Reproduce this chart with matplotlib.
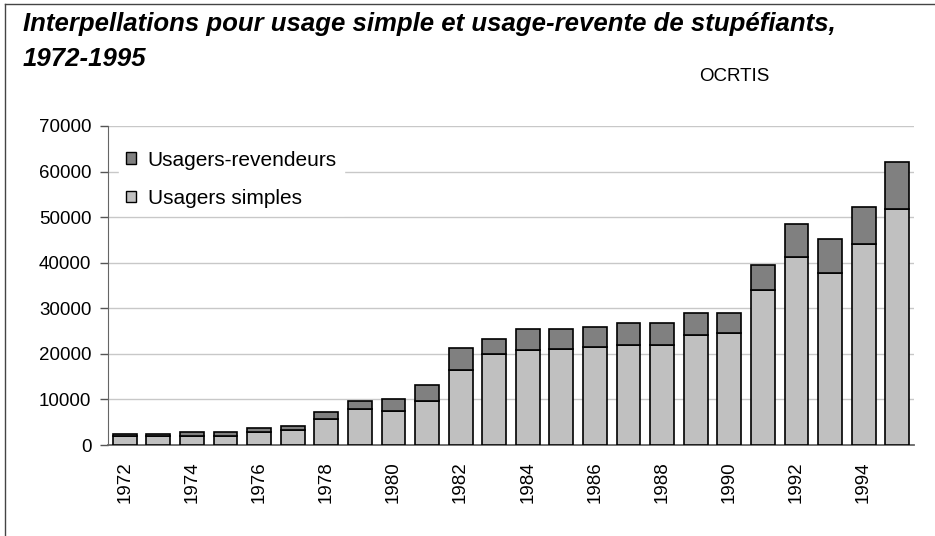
import matplotlib
matplotlib.use("Agg")
import matplotlib.pyplot as plt
from matplotlib.lines import Line2D
from matplotlib.patches import Patch

plt.rcParams['font.family'] = ['Liberation Sans', 'DejaVu Sans']

years = list(range(1972, 1996))
usagers_simples = [1950, 1950, 2050, 2000, 2850, 3300, 5800, 8000, 7550, 9650,
                   16450, 19900, 20800, 21150, 21600, 22000, 22000, 24200, 24600,
                   33950, 41250, 37800, 44200, 51850]
usagers_revendeurs = [550, 550, 900, 900, 900, 900, 1400, 1750, 2550, 3500,
                      4750, 3450, 4650, 4300, 4300, 4750, 4750, 4700, 4300,
                      5600, 7250, 7350, 8100, 10250]
yticks = [0, 10000, 20000, 30000, 40000, 50000, 60000, 70000]
year_labels = [str(y) for y in years[::2]]

W, H = 935, 536
fig = plt.figure(figsize=(W / 100, H / 100), dpi=100)
ax = fig.add_axes([108 / W, 1 - 445 / H, 806 / W, (445 - 126) / H])

x = list(range(len(years)))
c_simple = '#C0C0C0'
c_rev = '#808080'
ax.bar(x, usagers_simples, width=0.71, color=c_simple, edgecolor='black', linewidth=1.2, zorder=3)
ax.bar(x, usagers_revendeurs, width=0.71, bottom=usagers_simples, color=c_rev,
       edgecolor='black', linewidth=1.2, zorder=3)

ax.set_xlim(-0.5, len(years) - 0.5)
ax.set_ylim(0, 70000)
ax.set_yticks(yticks)
ax.set_yticklabels([str(v) for v in yticks])
ax.set_xticks(x[::2])
ax.set_xticklabels(year_labels, rotation=90)
ax.tick_params(axis='y', direction='out', length=6, width=1, color='#555555', pad=6, labelsize=13.5)
ax.tick_params(axis='x', length=0, pad=12, labelsize=13.5)
ax.yaxis.grid(True, color='#C8C8C8', linewidth=1)
ax.set_axisbelow(True)
for s in ['top', 'right']:
    ax.spines[s].set_visible(False)
ax.spines['left'].set_color('#666666')
ax.spines['bottom'].set_color('#666666')
ax.spines['bottom'].set_linewidth(1.3)

handles = [Patch(facecolor=c_rev, edgecolor='black', linewidth=1),
           Patch(facecolor=c_simple, edgecolor='black', linewidth=1)]
leg = ax.legend(handles, ['Usagers-revendeurs', 'Usagers simples'],
                loc='upper left', bbox_to_anchor=(0.006, 0.965), fontsize=15,
                handlelength=0.48, handleheight=0.48, handletextpad=0.55,
                labelspacing=0.92, frameon=True, fancybox=False,
                borderpad=0.35, borderaxespad=0.3)
leg.get_frame().set_facecolor('white')
leg.get_frame().set_edgecolor('white')
leg.get_frame().set_alpha(1)

fig.text(23 / W, 1 - 31.5 / H,
         'Interpellations pour usage simple et usage-revente de stupéfiants,',
         fontsize=18.5, fontweight='bold', fontstyle='italic', va='baseline', ha='left')
fig.text(23 / W, 1 - 66 / H, '1972-1995',
         fontsize=18.5, fontweight='bold', fontstyle='italic', va='baseline', ha='left')
fig.text(699 / W, 1 - 81 / H, 'OCRTIS', fontsize=13.5, va='baseline', ha='left')

# figure border (left and top visible)
fig.add_artist(Line2D([5 / W, 5 / W], [0, 1 - 4 / H], color='#444444', linewidth=1))
fig.add_artist(Line2D([5 / W, 1], [1 - 4 / H, 1 - 4 / H], color='#444444', linewidth=1))

fig.savefig('out.png', dpi=100)
